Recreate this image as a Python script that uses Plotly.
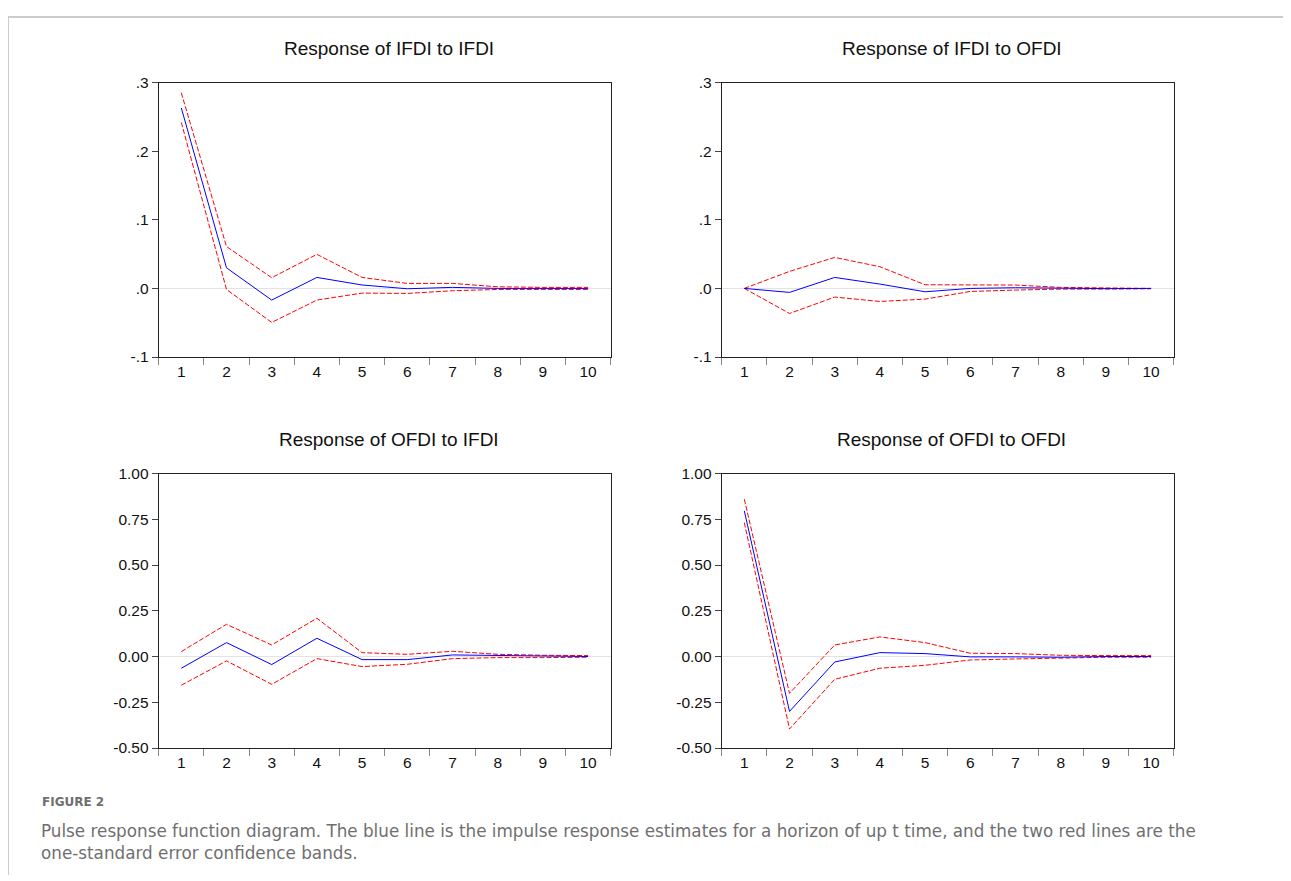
import plotly.graph_objects as go

# Empirical mapping of figure pixels to the photographed page:
# page_x = fig_x + 8 ; page_y = 16.5 + 0.98 * fig_y
LEFT_OFF = 8
TOP_OFF = 16.5
YSCALE = 0.98
W, H = 1291 - 2 * LEFT_OFF, 880

periods = [1, 2, 3, 4, 5, 6, 7, 8, 9, 10]

titles = ["Response of IFDI to IFDI", "Response of IFDI to OFDI",
          "Response of OFDI to IFDI", "Response of OFDI to OFDI"]

# Response of IFDI to IFDI
ifdi_ifdi = [0.263, 0.030, -0.017, 0.016, 0.005, -0.0005, 0.0015, 0.0, 0.0, 0.0]
ifdi_ifdi_up = [0.285, 0.061, 0.0156, 0.0496, 0.016, 0.0073, 0.0073, 0.0024, 0.0015, 0.0015]
ifdi_ifdi_lo = [0.242, -0.0015, -0.0496, -0.017, -0.0068, -0.0073, -0.0034, -0.0015, -0.0015, -0.0015]

# Response of IFDI to OFDI
ifdi_ofdi = [0.0, -0.0058, 0.016, 0.0063, -0.0049, 0.0, 0.001, 0.0, -0.0003, 0.0]
ifdi_ofdi_up = [0.0, 0.0248, 0.0452, 0.0316, 0.0053, 0.0049, 0.0049, 0.0015, 0.0005, 0.0]
ifdi_ofdi_lo = [0.0, -0.0365, -0.0126, -0.019, -0.0156, -0.0044, -0.0024, -0.001, -0.001, -0.0005]

# Response of OFDI to IFDI
ofdi_ifdi = [-0.064, 0.076, -0.044, 0.0997, -0.017, -0.017, 0.0086, 0.005, 0.0, 0.0]
ofdi_ifdi_up = [0.027, 0.176, 0.063, 0.209, 0.021, 0.012, 0.0286, 0.012, 0.007, 0.005]
ofdi_ifdi_lo = [-0.157, -0.024, -0.152, -0.0115, -0.055, -0.0425, -0.0115, -0.006, -0.006, -0.004]

# Response of OFDI to OFDI
ofdi_ofdi = [0.796, -0.300, -0.030, 0.0213, 0.0159, -0.002, -0.002, -0.004, 0.0, 0.0]
ofdi_ofdi_up = [0.860, -0.201, 0.063, 0.107, 0.076, 0.0177, 0.016, 0.0067, 0.005, 0.005]
ofdi_ofdi_lo = [0.732, -0.396, -0.1245, -0.064, -0.048, -0.019, -0.0133, -0.008, -0.004, -0.004]

top_ticks = [-0.1, 0.0, 0.1, 0.2, 0.3]
top_ticktext = ["-.1", ".0", ".1", ".2", ".3"]
bot_ticks = [-0.5, -0.25, 0.0, 0.25, 0.5, 0.75, 1.0]
bot_ticktext = ["-0.50", "-0.25", "0.00", "0.25", "0.50", "0.75", "1.00"]

caption_label = "FIGURE 2"
caption_text = ("Pulse response function diagram. The blue line is the impulse response estimates "
                "for a horizon of up t time, and the two red lines are the<br>one-standard error confidence bands.")

panels = [
    (ifdi_ifdi, ifdi_ifdi_up, ifdi_ifdi_lo, top_ticks, top_ticktext, [-0.1, 0.3]),
    (ifdi_ofdi, ifdi_ofdi_up, ifdi_ofdi_lo, top_ticks, top_ticktext, [-0.1, 0.3]),
    (ofdi_ifdi, ofdi_ifdi_up, ofdi_ifdi_lo, bot_ticks, bot_ticktext, [-0.5, 1.0]),
    (ofdi_ofdi, ofdi_ofdi_up, ofdi_ofdi_lo, bot_ticks, bot_ticktext, [-0.5, 1.0]),
]


def px(x):
    return max(0.0, (x - LEFT_OFF) / W)


def py(y):
    return min(1.0, 1 - ((y - TOP_OFF) / YSCALE) / H)


# target page-pixel geometry of plot areas (left, right, top, bottom)
boxes = [
    (158.7, 610.7, 82.0, 356.3),
    (721.7, 1173.7, 82.0, 356.3),
    (158.7, 610.7, 472.7, 747.0),
    (721.7, 1173.7, 472.7, 747.0),
]
title_y = [48, 48, 439, 439]

FONT = "Liberation Sans, Arial, sans-serif"

fig = go.Figure()
layout = dict(
    width=W, height=H,
    margin=dict(l=0, r=0, t=0, b=0),
    paper_bgcolor="white", plot_bgcolor="white",
    showlegend=False,
    font=dict(family=FONT, color="#111"),
)

annotations = []
minor_vals = [p - 0.5 for p in periods] + [periods[-1] + 0.5]

for i, (resp, up, lo, tv, tt, yr) in enumerate(panels):
    xa = "x" if i == 0 else f"x{i+1}"
    ya = "y" if i == 0 else f"y{i+1}"
    l, r, t, b = boxes[i]
    for series, color, dash in [(up, "#ff0000", "5px,2px"), (lo, "#ff0000", "5px,2px"),
                                (resp, "#0000ff", "solid")]:
        fig.add_trace(go.Scatter(x=periods, y=series, mode="lines", xaxis=xa, yaxis=ya,
                                 line=dict(color=color, width=1, dash=dash),
                                 hoverinfo="skip"))
    xkey = "xaxis" if i == 0 else f"xaxis{i+1}"
    ykey = "yaxis" if i == 0 else f"yaxis{i+1}"
    layout[xkey] = dict(
        domain=[px(l), px(r)], anchor=ya, range=[0.5, 10.5],
        tickvals=periods, ticktext=[str(p) for p in periods],
        ticks="", showgrid=False, zeroline=False,
        showline=True, mirror=True, linecolor="#222", linewidth=1,
        tickfont=dict(size=15.5, color="#111"),
        minor=dict(tickvals=minor_vals, ticks="outside", ticklen=7,
                   tickcolor="#888", tickwidth=1, showgrid=False),
        fixedrange=True,
    )
    layout[ykey] = dict(
        domain=[py(b), py(t)], anchor=xa, range=yr,
        tickvals=tv, ticktext=tt, ticks="outside", ticklen=6, tickcolor="#444",
        showgrid=False, zeroline=True, zerolinecolor="#e3e3e3", zerolinewidth=1,
        showline=True, mirror=True, linecolor="#222", linewidth=1,
        tickfont=dict(size=15.5, color="#111"),
        fixedrange=True,
    )
    annotations.append(dict(
        text=titles[i], x=px((l + r) / 2 + 4), y=py(title_y[i]),
        xref="paper", yref="paper", xanchor="center", yanchor="middle",
        showarrow=False, font=dict(size=19, color="#111", family=FONT),
    ))

annotations.append(dict(
    text="<b>" + caption_label + "</b>", x=px(40), y=py(801), xref="paper", yref="paper",
    xanchor="left", yanchor="middle", showarrow=False,
    font=dict(size=12, color="#6f6f6f", family="DejaVu Sans, sans-serif"),
))
annotations.append(dict(
    text=caption_text, x=px(39), y=py(841), xref="paper", yref="paper",
    xanchor="left", yanchor="middle", align="left", showarrow=False,
    font=dict(size=16.8, color="#6f6f6f", family="DejaVu Sans, sans-serif"),
))
layout["annotations"] = annotations

layout["shapes"] = [
    dict(type="line", xref="paper", yref="paper", x0=0, x1=1.0,
         y0=py(7), y1=py(7), line=dict(color="#cccccc", width=2)),
    dict(type="line", xref="paper", yref="paper", x0=px(7), x1=px(7),
         y0=py(7), y1=py(874), line=dict(color="#cccccc", width=2)),
]

fig.update_layout(**layout)
fig.write_html("out.html")
